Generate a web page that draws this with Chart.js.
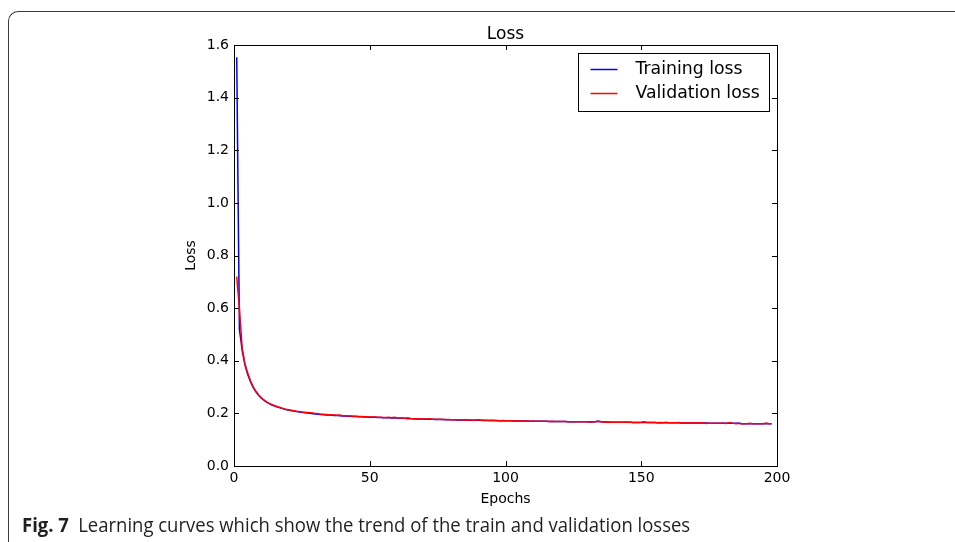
<!DOCTYPE html>
<html>
<head>
<meta charset="utf-8">
<title>Loss</title>
<script src="https://cdn.jsdelivr.net/npm/chart.js@4.4.1/dist/chart.umd.min.js"></script>
<style>
  html, body { margin: 0; padding: 0; background: #fff; width: 955px; height: 542px; overflow: hidden; }
  #wrap { position: relative; width: 955px; height: 542px; }
  #frame {
    position: absolute; left: 8px; top: 11px; width: 980px; height: 600px;
    border-left: 1.5px solid #3a3a3a; border-top: 1.5px solid #3a3a3a;
    border-top-left-radius: 10px;
  }
  #lossChart { position: absolute; left: 0; top: 0; }
  #caption {
    position: absolute; left: 22px; top: 511px; white-space: nowrap;
    font-family: "Open Sans", sans-serif; font-size: 20px; color: #231f20;
    transform: scaleX(0.925); transform-origin: left top;
  }
  #caption b { font-weight: bold; margin-right: 10px; }
</style>
</head>
<body>
<div id="wrap">
  <div id="frame"></div>
  <canvas id="lossChart" width="955" height="542"></canvas>
  <div id="caption"><b>Fig. 7</b>Learning curves which show the trend of the train and validation losses</div>
</div>
<script>
const epochs = [
  1, 2, 3, 4, 5, 6, 7, 8, 9, 10, 11, 12, 13, 14, 15, 16, 17, 18, 19, 20,
  21, 22, 23, 24, 25, 26, 27, 28, 29, 30, 31, 32, 33, 34, 35, 36, 37, 38, 39, 40,
  41, 42, 43, 44, 45, 46, 47, 48, 49, 50, 51, 52, 53, 54, 55, 56, 57, 58, 59, 60,
  61, 62, 63, 64, 65, 66, 67, 68, 69, 70, 71, 72, 73, 74, 75, 76, 77, 78, 79, 80,
  81, 82, 83, 84, 85, 86, 87, 88, 89, 90, 91, 92, 93, 94, 95, 96, 97, 98, 99, 100,
  101, 102, 103, 104, 105, 106, 107, 108, 109, 110, 111, 112, 113, 114, 115, 116, 117, 118, 119, 120,
  121, 122, 123, 124, 125, 126, 127, 128, 129, 130, 131, 132, 133, 134, 135, 136, 137, 138, 139, 140,
  141, 142, 143, 144, 145, 146, 147, 148, 149, 150, 151, 152, 153, 154, 155, 156, 157, 158, 159, 160,
  161, 162, 163, 164, 165, 166, 167, 168, 169, 170, 171, 172, 173, 174, 175, 176, 177, 178, 179, 180,
  181, 182, 183, 184, 185, 186, 187, 188, 189, 190, 191, 192, 193, 194, 195, 196, 197, 198
];

const trainLoss = [
  1.553, 0.520, 0.440, 0.385, 0.350, 0.322, 0.300, 0.283, 0.270, 0.259,
  0.250, 0.243, 0.237, 0.232, 0.228, 0.224, 0.221, 0.218, 0.215, 0.213,
  0.211, 0.209, 0.207, 0.205, 0.204, 0.202, 0.201, 0.200, 0.199, 0.198,
  0.197, 0.196, 0.195, 0.194, 0.194, 0.193, 0.192, 0.192, 0.191, 0.190,
  0.190, 0.189, 0.189, 0.188, 0.188, 0.187, 0.187, 0.186, 0.186, 0.185,
  0.185, 0.185, 0.184, 0.184, 0.183, 0.183, 0.183, 0.182, 0.182, 0.182,
  0.181, 0.181, 0.181, 0.180, 0.180, 0.180, 0.179, 0.179, 0.179, 0.178,
  0.178, 0.178, 0.178, 0.177, 0.177, 0.177, 0.177, 0.176, 0.176, 0.176,
  0.176, 0.175, 0.175, 0.175, 0.175, 0.175, 0.174, 0.174, 0.174, 0.174,
  0.174, 0.173, 0.173, 0.173, 0.173, 0.173, 0.172, 0.172, 0.172, 0.172,
  0.172, 0.172, 0.171, 0.171, 0.171, 0.171, 0.171, 0.171, 0.170, 0.170,
  0.170, 0.170, 0.170, 0.170, 0.170, 0.169, 0.169, 0.169, 0.169, 0.169,
  0.169, 0.169, 0.168, 0.168, 0.168, 0.168, 0.168, 0.168, 0.168, 0.168,
  0.167, 0.167, 0.168, 0.170, 0.168, 0.167, 0.167, 0.167, 0.166, 0.166,
  0.166, 0.166, 0.166, 0.166, 0.166, 0.166, 0.165, 0.165, 0.165, 0.165,
  0.166, 0.165, 0.165, 0.165, 0.165, 0.164, 0.164, 0.164, 0.164, 0.164,
  0.164, 0.164, 0.164, 0.164, 0.163, 0.163, 0.163, 0.163, 0.163, 0.163,
  0.163, 0.163, 0.163, 0.163, 0.162, 0.162, 0.162, 0.162, 0.162, 0.162,
  0.162, 0.162, 0.162, 0.162, 0.162, 0.162, 0.161, 0.161, 0.161, 0.161,
  0.161, 0.161, 0.161, 0.161, 0.161, 0.161, 0.161, 0.161
];

const validLoss = [
  0.720, 0.600, 0.450, 0.390, 0.355, 0.326, 0.303, 0.285, 0.271, 0.260,
  0.251, 0.244, 0.238, 0.233, 0.229, 0.225, 0.222, 0.219, 0.216, 0.214,
  0.212, 0.210, 0.208, 0.207, 0.205, 0.204, 0.203, 0.202, 0.201, 0.200,
  0.199, 0.197, 0.197, 0.196, 0.195, 0.194, 0.194, 0.193, 0.194, 0.191,
  0.191, 0.190, 0.190, 0.189, 0.189, 0.188, 0.188, 0.187, 0.187, 0.186,
  0.186, 0.186, 0.185, 0.185, 0.184, 0.184, 0.185, 0.183, 0.185, 0.183,
  0.182, 0.182, 0.181, 0.183, 0.181, 0.180, 0.180, 0.180, 0.179, 0.179,
  0.179, 0.180, 0.178, 0.178, 0.178, 0.178, 0.177, 0.177, 0.177, 0.176,
  0.176, 0.176, 0.176, 0.175, 0.176, 0.175, 0.175, 0.174, 0.175, 0.176,
  0.174, 0.174, 0.174, 0.173, 0.174, 0.173, 0.173, 0.172, 0.173, 0.172,
  0.172, 0.172, 0.171, 0.172, 0.171, 0.171, 0.171, 0.171, 0.170, 0.171,
  0.170, 0.170, 0.170, 0.170, 0.170, 0.169, 0.170, 0.169, 0.169, 0.169,
  0.169, 0.169, 0.168, 0.168, 0.168, 0.168, 0.168, 0.168, 0.168, 0.168,
  0.167, 0.168, 0.168, 0.170, 0.169, 0.167, 0.166, 0.166, 0.166, 0.166,
  0.166, 0.166, 0.166, 0.167, 0.166, 0.166, 0.165, 0.165, 0.165, 0.166,
  0.168, 0.165, 0.165, 0.165, 0.165, 0.164, 0.165, 0.164, 0.166, 0.164,
  0.164, 0.164, 0.164, 0.165, 0.163, 0.164, 0.163, 0.163, 0.164, 0.163,
  0.163, 0.164, 0.163, 0.162, 0.163, 0.162, 0.162, 0.162, 0.162, 0.163,
  0.162, 0.163, 0.164, 0.162, 0.161, 0.162, 0.161, 0.161, 0.161, 0.162,
  0.161, 0.161, 0.161, 0.161, 0.161, 0.163, 0.161, 0.161
];

const xTicks = [0, 50, 100, 150, 200];
const yTicks = [0.0, 0.2, 0.4, 0.6, 0.8, 1.0, 1.2, 1.4, 1.6];
const seriesNames = ["Training loss", "Validation loss"];
const seriesColors = ["#0000ff", "#ff0000"];

const mplFont = "DejaVu Sans";

// matplotlib style: box round the plot, ticks pointing inwards on all four sides
const axesBox = {
  id: "axesBox",
  afterDatasetsDraw(chart) {
    const { ctx, chartArea: a, scales } = chart;
    const len = 5;
    ctx.save();
    ctx.strokeStyle = "#000";
    ctx.lineWidth = 1;
    ctx.strokeRect(Math.round(a.left) + 0.5, Math.round(a.top) + 0.5,
      Math.round(a.right - a.left), Math.round(a.bottom - a.top));
    ctx.beginPath();
    xTicks.forEach(v => {
      const px = Math.round(scales.x.getPixelForValue(v)) + 0.5;
      ctx.moveTo(px, a.bottom); ctx.lineTo(px, a.bottom - len);
      ctx.moveTo(px, a.top); ctx.lineTo(px, a.top + len);
    });
    yTicks.forEach(v => {
      const py = Math.round(scales.y.getPixelForValue(v)) + 0.5;
      ctx.moveTo(a.left, py); ctx.lineTo(a.left + len, py);
      ctx.moveTo(a.right, py); ctx.lineTo(a.right - len, py);
    });
    ctx.stroke();
    ctx.restore();
  }
};

// legend box in the upper right corner of the plot
const legendBox = {
  id: "legendBox",
  afterDraw(chart) {
    const { ctx, chartArea: a } = chart;
    const w = 191, h = 58;
    const x0 = Math.round(a.right - 8 - w) + 0.5;
    const y0 = Math.round(a.top + 8) + 0.5;
    ctx.save();
    ctx.fillStyle = "#fff";
    ctx.fillRect(x0, y0, w, h);
    ctx.strokeStyle = "#000";
    ctx.lineWidth = 1;
    ctx.strokeRect(x0, y0, w, h);
    ctx.font = "17.3px '" + mplFont + "'";
    ctx.textBaseline = "middle";
    seriesNames.forEach((name, i) => {
      const y = y0 + 16 + i * 24;
      ctx.strokeStyle = seriesColors[i];
      ctx.lineWidth = 1.5;
      ctx.beginPath();
      ctx.moveTo(x0 + 12, y);
      ctx.lineTo(x0 + 39, y);
      ctx.stroke();
      ctx.fillStyle = "#000";
      ctx.fillText(name, x0 + 57, y);
    });
    ctx.restore();
  }
};

const tickFont = { family: mplFont, size: 14 };
const labelFont = { family: mplFont, size: 14 };

const ctx = document.getElementById("lossChart").getContext("2d");
new Chart(ctx, {
  type: "line",
  data: {
    datasets: [
      {
        label: seriesNames[1],
        data: epochs.map((e, i) => ({ x: e, y: validLoss[i] })),
        borderColor: seriesColors[1],
        borderWidth: 1.5,
        pointRadius: 0,
        fill: false,
        tension: 0
      },
      {
        label: seriesNames[0],
        data: epochs.map((e, i) => ({ x: e, y: trainLoss[i] })),
        borderColor: seriesColors[0],
        borderWidth: 1.5,
        pointRadius: 0,
        fill: false,
        tension: 0
      }
    ]
  },
  options: {
    responsive: false,
    animation: false,
    layout: { padding: { left: 0, right: 178, top: 0, bottom: 0 } },
    plugins: {
      legend: { display: false },
      tooltip: { enabled: false },
      title: {
        display: true,
        fullSize: false,
        text: "Loss",
        color: "#000",
        font: { family: mplFont, size: 17, weight: "normal" },
        padding: { top: 24, bottom: 0.6 }
      }
    },
    scales: {
      x: {
        type: "linear",
        min: 0,
        max: 200,
        afterFit: s => { s.height = 76; },
        afterBuildTicks: s => { s.ticks = xTicks.map(v => ({ value: v })); },
        grid: { display: false, drawTicks: false },
        border: { display: false },
        ticks: { font: tickFont, color: "#000", padding: 4, maxRotation: 0 },
        title: { display: true, text: "Epochs", color: "#000", font: labelFont, padding: { bottom: 34.5 } }
      },
      y: {
        type: "linear",
        min: 0,
        max: 1.6,
        afterFit: s => { s.width = 234; },
        afterBuildTicks: s => { s.ticks = yTicks.map(v => ({ value: v })); },
        grid: { display: false, drawTicks: false },
        border: { display: false },
        ticks: { font: tickFont, color: "#000", padding: 5, callback: v => v.toFixed(1) },
        title: { display: true, text: "Loss", color: "#000", font: labelFont, padding: { top: 183 } }
      }
    }
  },
  plugins: [axesBox, legendBox]
});
</script>
</body>
</html>
